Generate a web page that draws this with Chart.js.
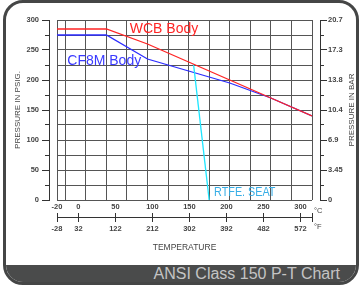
<!DOCTYPE html>
<html>
<head>
<meta charset="utf-8">
<script src="https://cdn.jsdelivr.net/npm/chart.js@4.4.1/dist/chart.umd.min.js"></script>
<style>
html,body{margin:0;padding:0;background:#fff;width:359px;height:285px;overflow:hidden;}
#wrap{position:relative;width:359px;height:285px;}
#frame{position:absolute;left:3px;top:0;width:356px;height:285px;box-sizing:border-box;border:3px solid #454646;border-radius:20px;overflow:hidden;background:#fff;}
#band{position:absolute;left:0;right:0;bottom:0;height:17px;background:#4a4b4b;}
#bandText{position:absolute;right:19px;top:266px;font:16px/16px "Liberation Sans",Arial,sans-serif;color:#c4c4c4;white-space:nowrap;}
#c{position:absolute;left:0;top:0;}
</style>
</head>
<body>
<div id="wrap">
  <div id="frame"><div id="band"></div></div>
  <div id="bandText">ANSI Class 150 P-T Chart</div>
  <canvas id="c" width="359" height="285"></canvas>
</div>
<script>
// ---- data (temperatures in °F, pressures in psig) ----
const tempF    = [-20, 100, 200, 300, 400, 500, 600];
const wcbPsi   = [285, 285, 260, 230, 200, 170, 140];
const cf8mPsi  = [275, 275, 235, 215, 195, 170, 140];
const ptfeTempF = [312, 350];
const ptfePsi   = [226, 0];

// ---- axis ticks / labels ----
const gridTempF = [-20, 0, 50, 100, 150, 200, 250, 300, 350, 400, 450, 500, 550, 600];
const scaleTempF = [-20, 32, 122, 212, 302, 392, 482, 572, 600];
const celsiusLabels    = ['-20', '0', '50', '100', '150', '200', '250', '300'];
const fahrenheitLabels = ['-28', '32', '122', '212', '302', '392', '482', '572', ''];
const psiTicks  = [0, 25, 50, 75, 100, 125, 150, 175, 200, 225, 250, 275, 300];
const psiLabels = ['0', '', '50', '', '100', '', '150', '', '200', '', '250', '', '300'];
const barLabels = ['0', '', '3.45', '', '6.9', '', '10.4', '', '13.8', '', '17.3', '', '20.7'];
const seriesNames = ['WCB Body', 'CF8M Body', 'RTFE. SEAT'];

const AXIS = '#333333';
const GRID = '#555555';
const TXT = '#444444';
const RED = '#ff2424';
const BLUE = '#2b2bff';
const CYAN = '#1ee6ff';

Chart.defaults.font.family = '"Liberation Sans", Arial, sans-serif';
Chart.defaults.color = TXT;

const tickFont = {size: 7.5, weight: 'bold'};
const isMajor = (v) => psiLabels[psiTicks.indexOf(v)] !== '';
const fixTicks = (arr) => (s) => { s.ticks = arr.map(v => ({value: v})); };
const alignPx = (p) => Math.round(p - 0.5) + 0.5;

const annotations = [
  {text: seriesNames[0], x: 157, y: 278, color: RED, font: '14px "Liberation Sans", Arial, sans-serif', sx: 1},
  {text: seriesNames[1], x: 5, y: 225, color: '#3a3aff', font: '14px "Liberation Sans", Arial, sans-serif', sx: 1},
  {text: seriesNames[2], x: 362, y: 6.7, color: '#38aee6', font: '13px "Liberation Sans", Arial, sans-serif', sx: 0.83}
];

const extras = {
  id: 'extras',
  afterDraw(chart) {
    const {ctx, scales} = chart;
    const yL = scales.yL, yR = scales.yR, xF = scales.xF;
    ctx.save();
    ctx.strokeStyle = AXIS;
    ctx.lineWidth = 1;
    ctx.beginPath();
    yL.ticks.forEach(t => {
      if (!isMajor(t.value)) {
        const y = alignPx(yL.getPixelForValue(t.value));
        ctx.moveTo(yL.right - 4, y); ctx.lineTo(yL.right, y);
      }
    });
    yR.ticks.forEach(t => {
      if (!isMajor(t.value)) {
        const y = alignPx(yR.getPixelForValue(t.value));
        ctx.moveTo(yR.left, y); ctx.lineTo(yR.left + 4, y);
      }
    });
    xF.ticks.forEach(t => {
      const x = alignPx(xF.getPixelForValue(t.value));
      ctx.moveTo(x, xF.top - 4); ctx.lineTo(x, xF.top + 1);
    });
    ctx.stroke();

    ctx.fillStyle = TXT;
    ctx.font = '7.5px "Liberation Sans", Arial, sans-serif';
    ctx.textAlign = 'left';
    ctx.textBaseline = 'middle';
    ctx.fillText('°C', xF.right + 2, xF.top - 6);
    ctx.fillText('°F', xF.right + 2, xF.top + 10);

    ctx.save();
    ctx.translate(yR.right - 7.5, (yR.top + yR.bottom) / 2);
    ctx.rotate(-Math.PI / 2);
    ctx.textAlign = 'center';
    ctx.font = '8px "Liberation Sans", Arial, sans-serif';
    ctx.fillText('PRESSURE IN BAR', 0, 0);
    ctx.restore();

    annotations.forEach(a => {
      ctx.save();
      ctx.translate(scales.x.getPixelForValue(a.x), scales.y.getPixelForValue(a.y));
      ctx.scale(a.sx, 1);
      ctx.font = a.font;
      ctx.fillStyle = a.color;
      ctx.textAlign = 'left';
      ctx.textBaseline = 'alphabetic';
      ctx.fillText(a.text, 0, 0);
      ctx.restore();
    });
    ctx.restore();
  }
};

const toPts = (xs, ys) => xs.map((x, i) => ({x, y: ys[i]}));

new Chart(document.getElementById('c'), {
  type: 'line',
  data: {
    datasets: [
      {label: seriesNames[0], data: toPts(tempF, wcbPsi), borderColor: RED, borderWidth: 1.3, pointRadius: 0, tension: 0, xAxisID: 'x', yAxisID: 'y'},
      {label: seriesNames[2], data: toPts(ptfeTempF, ptfePsi), borderColor: CYAN, borderWidth: 1.3, pointRadius: 0, tension: 0, xAxisID: 'x', yAxisID: 'y'},
      {label: seriesNames[1], data: toPts(tempF, cf8mPsi), borderColor: BLUE, borderWidth: 1.3, pointRadius: 0, tension: 0, xAxisID: 'x', yAxisID: 'y'}
    ]
  },
  options: {
    responsive: false,
    animation: false,
    devicePixelRatio: 1,
    layout: {padding: {top: 20, bottom: 28, left: 0, right: 0}},
    plugins: {legend: {display: false}, tooltip: {enabled: false}},
    scales: {
      x: {
        type: 'linear', position: 'bottom', weight: 0, min: -20, max: 600,
        afterBuildTicks: fixTicks(gridTempF),
        ticks: {display: false},
        grid: {color: GRID, lineWidth: 1, drawTicks: false},
        border: {display: false},
        afterFit: (s) => { s.height = 0; }
      },
      xC: {
        type: 'linear', position: 'bottom', weight: 1, min: -20, max: 600,
        afterBuildTicks: fixTicks(scaleTempF.slice(0, celsiusLabels.length)),
        ticks: {font: tickFont, color: TXT, padding: 2, autoSkip: false, maxRotation: 0,
                callback: (v, i) => celsiusLabels[i]},
        grid: {display: false, drawTicks: false},
        border: {display: false},
        afterFit: (s) => { s.height = 17; }
      },
      xF: {
        type: 'linear', position: 'bottom', weight: 2, min: -20, max: 600,
        afterBuildTicks: fixTicks(scaleTempF),
        ticks: {font: tickFont, color: TXT, padding: 2, autoSkip: false, maxRotation: 0,
                callback: (v, i) => fahrenheitLabels[i]},
        grid: {drawOnChartArea: false, tickLength: 5, tickColor: AXIS, color: AXIS},
        border: {display: true, color: AXIS, width: 1},
        title: {display: true, text: 'TEMPERATURE', font: {size: 8.5}, color: TXT, padding: {top: 0, bottom: 4}},
        afterFit: (s) => { s.height = 40; }
      },
      y: {
        type: 'linear', position: 'left', weight: 0, min: 0, max: 300,
        afterBuildTicks: fixTicks(psiTicks),
        ticks: {display: false},
        grid: {color: GRID, lineWidth: 1, drawTicks: false},
        border: {display: false},
        afterFit: (s) => { s.width = 8; }
      },
      yL: {
        type: 'linear', position: 'left', weight: 1, min: 0, max: 300,
        afterBuildTicks: fixTicks(psiTicks),
        ticks: {font: tickFont, color: TXT, padding: 3, autoSkip: false,
                callback: (v, i) => psiLabels[i]},
        grid: {drawOnChartArea: false, tickLength: 7,
               tickColor: (c) => (c.tick && isMajor(c.tick.value)) ? AXIS : 'rgba(0,0,0,0)'},
        border: {display: true, color: AXIS, width: 1},
        title: {display: true, text: 'PRESSURE IN PSIG.', font: {size: 8}, color: TXT, padding: {top: 12.5, bottom: 0}},
        afterFit: (s) => { s.width = 49; }
      },
      yRS: {
        type: 'linear', position: 'right', weight: 0, min: 0, max: 300,
        ticks: {display: false},
        grid: {display: false, drawTicks: false},
        border: {display: false},
        afterFit: (s) => { s.width = 8; }
      },
      yR: {
        type: 'linear', position: 'right', weight: 1, min: 0, max: 300,
        afterBuildTicks: fixTicks(psiTicks),
        ticks: {font: tickFont, color: TXT, padding: 1, autoSkip: false,
                callback: (v, i) => barLabels[i]},
        grid: {drawOnChartArea: false, tickLength: 7,
               tickColor: (c) => (c.tick && isMajor(c.tick.value)) ? AXIS : 'rgba(0,0,0,0)'},
        border: {display: true, color: AXIS, width: 1},
        afterFit: (s) => { s.width = 39; }
      }
    }
  },
  plugins: [extras]
});
</script>
</body>
</html>
